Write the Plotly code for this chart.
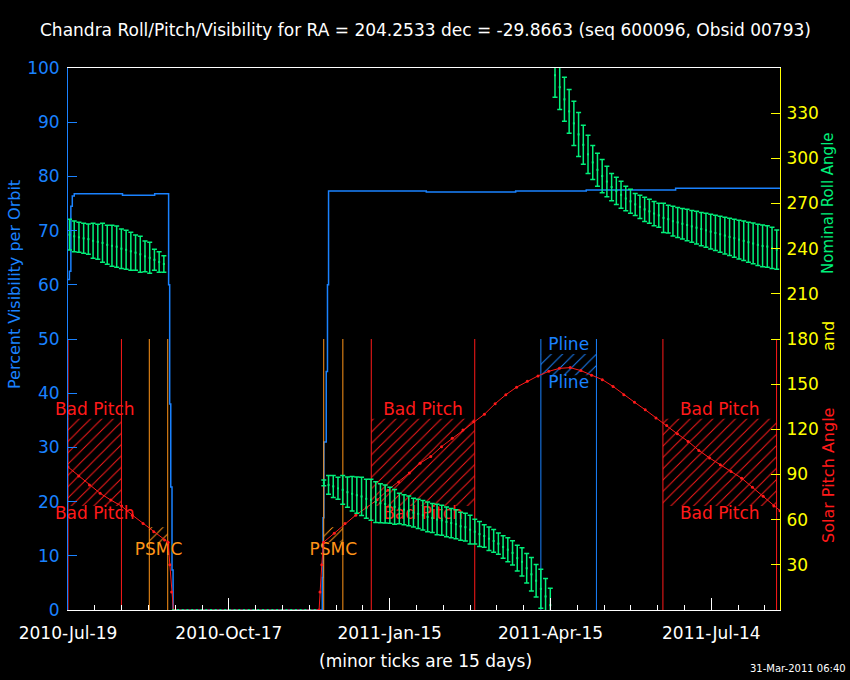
import numpy as np
import pandas as pd
import plotly.graph_objects as go

# ---------------- data ----------------
T0 = pd.Timestamp("2010-07-19")
X_END = pd.Timestamp("2011-08-21 10:00")
ROLL_STEP = 2.64  # days between roll samples

# Percent visibility per orbit (days since 2010-07-19)
vis_days = [0, 0.8, 1.6, 2.4, 3.5, 30, 30.5, 48, 48.5, 55.7, 56.3, 56.9, 57.5, 58.2, 58.8,
            141.9, 142.3, 142.7, 143.2, 144.5, 145.2, 145.8, 200, 200.5, 250, 250.5, 290, 340, 398.4]
vis_pct = [61, 62.5, 74.5, 76.4, 76.8, 76.8, 76.5, 76.5, 76.8, 76.8, 60, 38, 22.7, 7.4, 0,
           0, 6, 17, 31, 44, 60, 77.3, 77.3, 77.1, 77.1, 77.3, 77.5, 77.8, 77.9]

# Solar pitch angle (deg)
pitch_days = [0, 6, 12, 18, 24, 30, 36, 42, 48, 54, 56, 57, 58, 59,
              140.5, 141, 142, 143,
              149, 155, 161, 167, 173, 179, 185, 191, 197, 203, 209, 215, 221, 227, 233, 239,
              245, 251, 257, 263, 269, 275, 281, 287, 293, 299, 305, 311, 317, 323, 329, 335,
              341, 347, 353, 359, 365, 371, 377, 383, 389, 395, 398.4]
pitch_deg = [95, 89, 83, 77.5, 73, 69, 63, 57.5, 52, 46.5, 45, 30, 12, 0,
             0, 12, 30, 45,
             51, 57.5, 63, 68, 73.2, 79.6, 85, 91, 97.5, 102, 108.5, 114, 119.5, 125, 130, 137,
             143, 148, 152, 155.5, 158.5, 160.5, 161, 159, 156, 153, 148.5, 143, 138, 133, 127.5, 122.5,
             117, 112, 106, 101, 96.5, 92, 87.5, 81.5, 75.5, 69, 66]

# Nominal roll angle ranges (deg), segment 1
roll1_start = 0.84
roll1_hi = [259.5, 258.4, 257.5, 256.8, 256.4, 256.8, 256.2, 256.8, 255.5, 255.5, 255.0,
            253.1, 252.2, 250.9, 249.1, 248.2, 245.1, 244.2, 239.6, 238.0, 235.3]
roll1_lo = [239.1, 238.0, 237.6, 236.9, 236.3, 233.6, 232.9, 230.9, 229.6, 228.3, 227.6,
            226.9, 226.3, 225.6, 225.6, 224.3, 224.7, 223.6, 225.6, 224.3, 224.3]

# segment 2 (roll decreasing through 0 deg) and segment 3 (wrapped to 360)
roll2_start = 143.15
roll2_hi = [86.3, 89.4, 89.4, 88.1, 89.4, 88.3, 88.6, 88.3, 88.1, 86.8, 86.8, 85.2, 83.9, 83.0,
            81.5, 80.1, 77.5, 76.6, 75.7, 74.2, 73.5, 72.8, 71.7, 70.8, 70.2, 69.5, 68.4, 67.5,
            66.6, 64.9, 64.2, 62.9, 60.2, 58.7, 56.7, 55.1, 53.4, 51.1, 49.4, 48.0, 46.0, 43.0,
            41.4, 37.6, 34.8, 30.3, 27.0, 21.0, 14.4]
roll2_lo = [82.6, 76.8, 74.8, 73.5, 70.2, 68.2, 65.8, 64.2, 62.7, 60.9, 59.6, 58.2, 58.0, 57.8,
            57.6, 56.9, 57.3, 56.7, 56.0, 55.1, 54.2, 53.1, 52.0, 51.4, 50.0, 49.6, 48.7, 48.0,
            47.4, 46.3, 45.8, 43.8, 43.8, 42.1, 41.6, 39.6, 38.3, 37.0, 34.3, 32.1, 29.9, 25.9,
            22.6, 17.9, 12.6, 8.6, 1.1, -3.0, -8.0]
roll3_hi = [370, 362, 353.8, 345.8, 337.9, 330.5, 321.9, 315.3, 308.6, 303.3, 299.3, 294.7,
            290.0, 287.4, 284.7, 281.4, 279.4, 276.7, 275.4, 274.1, 272.8, 271.4, 270.1, 270.1,
            268.8, 268.1, 267.4, 266.7, 266.1, 265.4, 264.8, 264.1, 263.5, 262.8, 262.2, 261.5,
            260.9, 260.2, 259.6, 258.9, 258.3, 257.6, 257.0, 256.3, 255.7, 255.2, 254.2, 252.4]
roll3_lo = [340.5, 332.5, 324.6, 316.6, 308.6, 301.3, 296.0, 290.0, 286.0, 281.4, 277.2, 274.5,
            271.9, 269.4, 266.8, 265.2, 263.5, 262.1, 260.1, 258.1, 256.8, 255.3, 254.2, 250.8,
            250.4, 248.4, 247.5, 246.4, 245.3, 244.2, 243.1, 242.0, 240.9, 239.8, 238.7, 237.6,
            236.5, 235.4, 234.3, 233.2, 232.1, 231.0, 229.9, 228.8, 228.0, 227.6, 226.9, 226.3]
# roll samples while target not visible (plotted at 0)
roll0_start = 58.9
roll0_end = 140.6

# Constraint regions
region_kind = ["Bad Pitch", "PSMC", "PSMC", "Bad Pitch", "Pline", "Bad Pitch"]
region_start = [0.0, 45.5, 143.1, 169.7, 264.6, 332.9]
region_end = [29.9, 55.8, 153.8, 227.6, 295.7, 396.5]
region_lo = [69, 45, 45, 69, 156, 69]
region_hi = [127, 55, 55, 127, 170, 127]

x_tick_days = 90
x_minor_days = 15
y_left_ticks = list(range(0, 101, 10))
y_right_ticks = list(range(30, 331, 30))

TITLE = "Chandra Roll/Pitch/Visibility for RA = 204.2533 dec = -29.8663 (seq 600096, Obsid 00793)"
STAMP = "31-Mar-2011 06:40"

# ---------------- style ----------------
BLUE = "#1a82ff"
GREEN = "#00f07a"
RED = "#ff1a1a"
ORANGE = "#ff9418"
YELLOW = "#ffff00"
WHITE = "#ffffff"
FONT = "DejaVu Sans"
KIND_COLOR = {"Bad Pitch": RED, "PSMC": ORANGE, "Pline": BLUE}
KIND_ABOVE = {"Bad Pitch": True, "PSMC": False, "Pline": True}


def d2t(days):
    return T0 + pd.to_timedelta(np.asarray(days, dtype=float), unit="D")


fig = go.Figure()

# regions: boundary lines + hatching + labels
for kind, s, e, lo, hi in zip(region_kind, region_start, region_end, region_lo, region_hi):
    c = KIND_COLOR[kind]
    for d in (s, e):
        fig.add_trace(go.Scatter(x=d2t([d, d]), y=[0, 180], yaxis="y2", mode="lines",
                                 line=dict(color=c, width=1), hoverinfo="skip", showlegend=False))
    fig.add_trace(go.Scatter(x=d2t([s, e, e, s, s]), y=[lo, lo, hi, hi, lo], yaxis="y2",
                             mode="none", fill="toself", fillcolor="rgba(0,0,0,0)",
                             fillpattern=dict(shape="/", fgcolor=c, bgcolor="rgba(0,0,0,0)",
                                              size=8, solidity=0.12, fillmode="replace"),
                             hoverinfo="skip", showlegend=False))
    mid = d2t([(s + e) / 2])
    if KIND_ABOVE[kind]:
        fig.add_trace(go.Scatter(x=mid, y=[hi], yaxis="y2", mode="text", text=[kind],
                                 textposition="top center", cliponaxis=False,
                                 textfont=dict(color=c, size=17, family=FONT),
                                 hoverinfo="skip", showlegend=False))
    fig.add_trace(go.Scatter(x=mid, y=[lo], yaxis="y2", mode="text", text=[kind],
                             textposition="bottom center", cliponaxis=False,
                             textfont=dict(color=c, size=17, family=FONT),
                             hoverinfo="skip", showlegend=False))

# solar pitch
fig.add_trace(go.Scatter(x=d2t(pitch_days), y=pitch_deg, yaxis="y2", mode="lines+markers",
                         line=dict(color=RED, width=1), marker=dict(color=RED, size=3),
                         hoverinfo="skip", showlegend=False))

# visibility
fig.add_trace(go.Scatter(x=d2t(vis_days), y=vis_pct, yaxis="y", mode="lines",
                         line=dict(color=BLUE, width=1.5, shape="hv"),
                         hoverinfo="skip", showlegend=False))


def roll_trace(start, hi, lo):
    hi = np.asarray(hi)
    lo = np.asarray(lo)
    mid = (hi + lo) / 2
    days = start + ROLL_STEP * np.arange(len(hi))
    return go.Scatter(x=d2t(days), y=mid, yaxis="y2", mode="markers",
                      marker=dict(color=GREEN, size=2, symbol="square"),
                      error_y=dict(type="data", symmetric=False, array=hi - mid,
                                   arrayminus=mid - lo, color=GREEN, thickness=1.5, width=2.5),
                      hoverinfo="skip", showlegend=False)


fig.add_trace(roll_trace(roll1_start, roll1_hi, roll1_lo))
fig.add_trace(roll_trace(roll2_start, roll2_hi + roll3_hi, roll2_lo + roll3_lo))
zero_days = np.arange(roll0_start, roll0_end, ROLL_STEP)
fig.add_trace(go.Scatter(x=d2t(zero_days), y=np.zeros(len(zero_days)), yaxis="y2", mode="markers",
                         marker=dict(color=GREEN, size=2, symbol="square"), cliponaxis=False,
                         hoverinfo="skip", showlegend=False))

DAY_MS = 86400000
fig.update_layout(
    width=850, height=680,
    margin=dict(l=68, r=70, t=68, b=70),
    paper_bgcolor="black", plot_bgcolor="black",
    showlegend=False, hovermode=False,
    font=dict(family=FONT, color=WHITE, size=15),
    xaxis=dict(type="date", range=[T0, X_END], showgrid=False, zeroline=False,
               showline=True, linecolor=WHITE, linewidth=1, mirror=True,
               ticks="inside", ticklen=12, tickcolor=WHITE, tickwidth=1,
               tick0=T0, dtick=x_tick_days * DAY_MS, tickformat="%Y-%b-%d",
               tickfont=dict(color=WHITE, size=17, family=FONT), ticklabelstandoff=8,
               minor=dict(ticks="inside", ticklen=5, tickcolor=WHITE, tickwidth=1,
                          tick0=T0, dtick=x_minor_days * DAY_MS, showgrid=False)),
    yaxis=dict(range=[0, 100], tickvals=y_left_ticks, showgrid=False, zeroline=False,
               showline=True, linecolor=BLUE, linewidth=1,
               ticks="inside", ticklen=9, tickcolor=BLUE,
               tickfont=dict(color=BLUE, size=17, family=FONT), ticklabelstandoff=4),
    yaxis2=dict(range=[0, 360], tickvals=y_right_ticks, overlaying="y", side="right",
                showgrid=False, zeroline=False, showline=True, linecolor=YELLOW, linewidth=1,
                ticks="inside", ticklen=9, tickcolor=YELLOW,
                tickfont=dict(color=YELLOW, size=17, family=FONT), ticklabelstandoff=2),
)

W, H, L, B = 712.0, 542.0, 68.0, 610.0


def px(xp):
    return (xp - L) / W


def py(yp):
    return (B - yp) / H


ann = [
    dict(text=TITLE, x=px(425), y=py(30), font=dict(color=WHITE, size=17)),
    dict(text="Percent Visibility per Orbit", x=px(14), y=py(285), textangle=-90,
         font=dict(color=BLUE, size=16)),
    dict(text="Nominal Roll Angle", x=px(828), y=py(203), textangle=-90, font=dict(color=GREEN, size=15)),
    dict(text="and", x=px(828), y=py(336), textangle=-90, font=dict(color=YELLOW, size=16)),
    dict(text="Solar Pitch Angle", x=px(828), y=py(476), textangle=-90, font=dict(color=RED, size=16)),
    dict(text="(minor ticks are 15 days)", x=px(425), y=py(661), font=dict(color=WHITE, size=17)),
    dict(text=STAMP, x=px(848), y=py(668), xanchor="right", font=dict(color=WHITE, size=10)),
]
for a in ann:
    a.setdefault("xanchor", "center")
    a.update(xref="paper", yref="paper", yanchor="middle", showarrow=False)
    a["font"].setdefault("family", FONT)
fig.update_layout(annotations=ann)

fig.write_html("out.html", config={"displayModeBar": False},
               post_script="document.body.style.margin='0';document.body.style.padding='0';")
